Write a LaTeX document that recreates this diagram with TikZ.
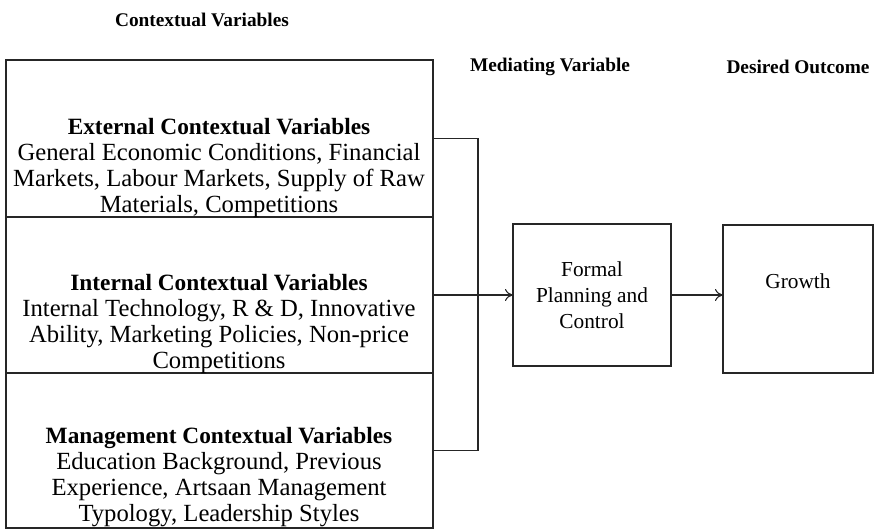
\documentclass[tikz,border=0pt]{standalone}
\usepackage{fontspec}
\setmainfont{Liberation Serif}
\usetikzlibrary{arrows.meta}
\begin{document}
\begin{tikzpicture}[x=0.75pt,y=-0.75pt,
  every node/.style={inner sep=0pt, outer sep=0pt},
  frame/.style={draw=black!85, line width=0.8pt, rectangle},
  heading/.style={font=\fontsize{14.5}{17}\selectfont\bfseries},
  body/.style={align=center, font=\fontsize{18.5}{19.5}\selectfont},
  small/.style={align=center, font=\fontsize{16}{19.5}\selectfont},
  link/.style={draw=black!85, line width=0.8pt},
  arr/.style={link, -{To[length=6pt,width=9pt]}}
]
\useasboundingbox (0,0) rectangle (890,531);

% column headings
\node[heading] (h1) at (202,20) {Contextual Variables};
\node[heading] (h2) at (550,67) {Mediating Variable};
\node[heading] (h3) at (798,67) {Desired Outcome};

% stack of contextual variable boxes (sizes in pt: 1 unit = 0.75pt)
\node[frame, minimum width=320.25pt, minimum height=117.75pt] (b1) at (219.5,138.5) {};
\node[frame, minimum width=320.25pt, minimum height=117pt] (b2) at (219.5,295) {};
\node[frame, minimum width=320.25pt, minimum height=116.25pt] (b3) at (219.5,450.5) {};

\node[body] (t1) at (219,168) {{\fontsize{17.5}{19.5}\selectfont\bfseries External Contextual Variables}\\
  General Economic Conditions, Financial\\ Markets, Labour Markets, Supply of Raw\\ Materials, Competitions};
\node[body] (t2) at (219,324) {{\fontsize{17.5}{19.5}\selectfont\bfseries Internal Contextual Variables}\\
  Internal Technology, R \& D, Innovative\\ Ability, Marketing Policies, Non-price\\ Competitions};
\node[body] (t3) at (219,477) {{\fontsize{17.5}{19.5}\selectfont\bfseries Management Contextual Variables}\\
  Education Background, Previous\\ Experience, Artsaan Management\\ Typology, Leadership Styles};

% mediating variable and outcome
\node[frame, minimum width=118.5pt, minimum height=106.5pt, small] (plan) at (592,295) {Formal\\ Planning and\\ Control};
\node[frame, minimum width=112.5pt, minimum height=111pt] (grow) at (798,299) {};
\node[small] (gt) at (798,281) {Growth};

% connectors
\coordinate (jn) at (478,295);
\draw[link] (b1.east) -| (jn) |- (b3.east);
\draw[arr] (b2.east) -- (plan.west);
\draw[arr] (plan.east) -- (plan.east -| grow.west);
\end{tikzpicture}
\end{document}
